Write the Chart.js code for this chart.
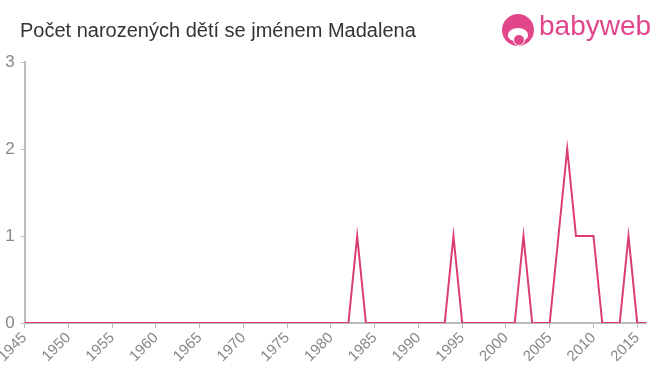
<!DOCTYPE html>
<html>
<head>
<meta charset="utf-8">
<script src="https://cdn.jsdelivr.net/npm/chart.js@4/dist/chart.umd.min.js"></script>
<style>
  html, body { margin: 0; padding: 0; background: #fff; }
  #wrap { position: relative; width: 660px; height: 375px; }
  #title {
    position: absolute; left: 20px; top: 19px;
    font: 20px "Liberation Sans", Arial, sans-serif; color: #333;
  }
  #logo { position: absolute; left: 502px; top: 14px; height: 34px; }
  #logo .icon {
    position: absolute; left: 0; top: 0; width: 32px; height: 32px;
    border-radius: 50%; background: #e2468a; overflow: hidden;
  }
  #logo .face {
    position: absolute; left: 6px; top: 14px; width: 20px; height: 13px;
    border-radius: 50% 50% 40% 40%; background: #fff;
  }
  #logo .nose {
    position: absolute; left: 11px; top: 20px; width: 10px; height: 10px;
    border-radius: 50%; background: #e2468a; border: 1px solid #fff;
  }
  #logo .text {
    position: absolute; left: 37px; top: -4px;
    font: 28px "Liberation Sans", Arial, sans-serif; color: #e2468a; white-space: nowrap;
  }
  canvas { position: absolute; left: 0; top: 0; }
</style>
</head>
<body>
<div id="wrap">
  <canvas id="chart" width="660" height="375"></canvas>
  <div id="title">Počet narozených dětí se jménem Madalena</div>
  <div id="logo">
    <div class="icon"><div class="face"></div><div class="nose"></div></div>
    <div class="text">babyweb</div>
  </div>
</div>
<script>
const years = [
  1945, 1946, 1947, 1948, 1949, 1950, 1951, 1952, 1953, 1954,
  1955, 1956, 1957, 1958, 1959, 1960, 1961, 1962, 1963, 1964,
  1965, 1966, 1967, 1968, 1969, 1970, 1971, 1972, 1973, 1974,
  1975, 1976, 1977, 1978, 1979, 1980, 1981, 1982, 1983, 1984,
  1985, 1986, 1987, 1988, 1989, 1990, 1991, 1992, 1993, 1994,
  1995, 1996, 1997, 1998, 1999, 2000, 2001, 2002, 2003, 2004,
  2005, 2006, 2007, 2008, 2009, 2010, 2011, 2012, 2013, 2014,
  2015, 2016
];
const births = [
  0, 0, 0, 0, 0, 0, 0, 0, 0, 0,
  0, 0, 0, 0, 0, 0, 0, 0, 0, 0,
  0, 0, 0, 0, 0, 0, 0, 0, 0, 0,
  0, 0, 0, 0, 0, 0, 0, 0, 1, 0,
  0, 0, 0, 0, 0, 0, 0, 0, 0, 1,
  0, 0, 0, 0, 0, 0, 0, 1, 0, 0,
  0, 1, 2, 1, 1, 1, 0, 0, 0, 1,
  0, 0
];
const yTicks = [0, 1, 2, 3];

const axisColor = "#bbbbbb";
const tickColor = "#888888";

new Chart(document.getElementById("chart").getContext("2d"), {
  type: "line",
  data: {
    datasets: [{
      data: years.map((y, i) => ({ x: y, y: births[i] })),
      borderColor: "#dc3d70",
      borderWidth: 2,
      pointRadius: 0,
      tension: 0,
      fill: false,
    }],
  },
  options: {
    responsive: false,
    animation: false,
    layout: { padding: { top: 62, right: 14, left: 0, bottom: 0 } },
    plugins: { legend: { display: false }, tooltip: { enabled: false } },
    scales: {
      x: {
        type: "linear",
        min: years[0],
        max: years[years.length - 1],
        afterBuildTicks: (scale) => {
          scale.ticks = years.filter((y) => y % 5 === 0).map((v) => ({ value: v }));
        },
        afterFit: (scale) => { scale.height = 52; },
        ticks: {
          color: tickColor,
          font: { family: "'Liberation Sans', Arial, sans-serif", size: 15 },
          minRotation: 45,
          maxRotation: 45,
          autoSkip: false,
          padding: 1,
          callback: (v) => String(v),
        },
        grid: { drawOnChartArea: false, color: axisColor, tickLength: 5 },
        border: { color: axisColor, width: 2 },
      },
      y: {
        min: 0,
        max: 3,
        afterBuildTicks: (scale) => {
          scale.ticks = yTicks.map((v) => ({ value: v }));
        },
        afterFit: (scale) => { scale.width = 24; },
        ticks: {
          color: tickColor,
          font: { family: "'Liberation Sans', Arial, sans-serif", size: 17 },
          padding: 6,
        },
        grid: { drawOnChartArea: false, color: axisColor, tickLength: 4 },
        border: { color: axisColor, width: 2 },
      },
    },
  },
});
</script>
</body>
</html>
